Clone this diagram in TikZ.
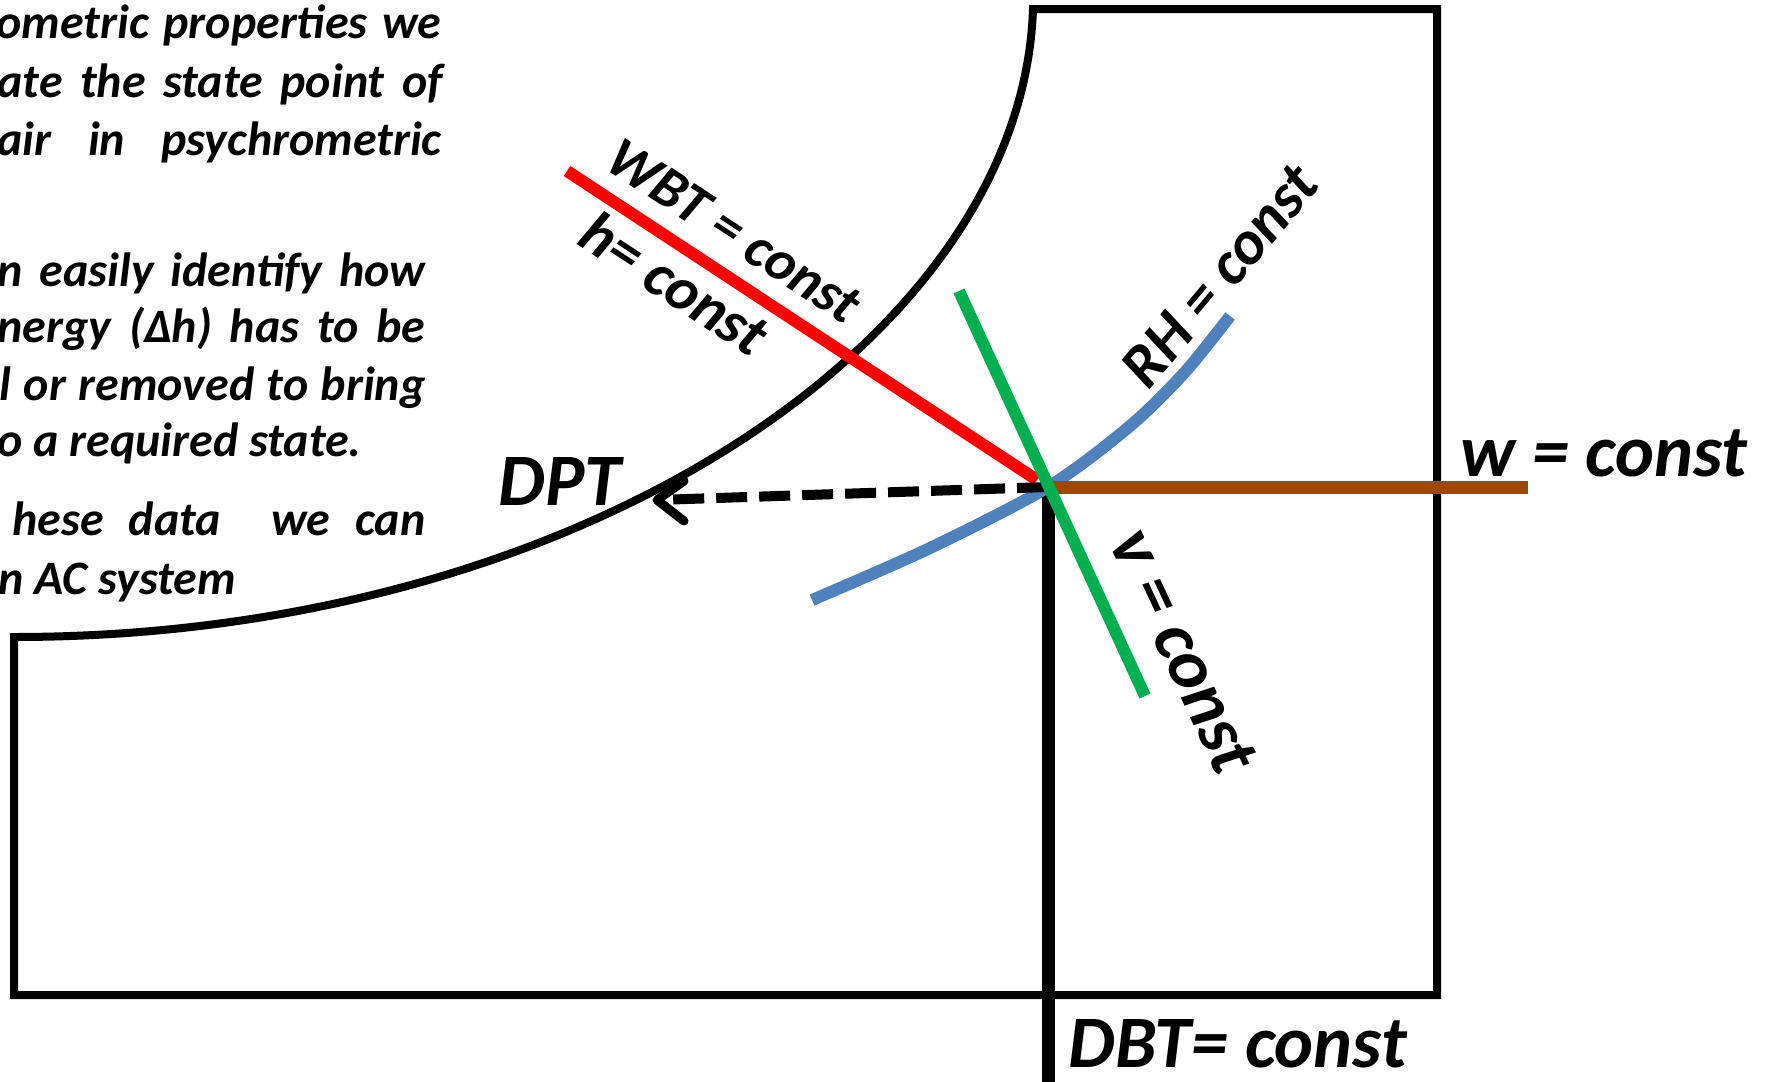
\documentclass[tikz,border=0pt]{standalone}
\usepackage{fontspec}
\setmainfont{Carlito}
\definecolor{redH}{HTML}{FF0000}
\definecolor{greenV}{HTML}{00B050}
\definecolor{blueRH}{HTML}{4F81BD}
\definecolor{brownW}{HTML}{984807}
\newcommand{\jline}[2]{\makebox[#1][s]{#2}}
\begin{document}
\begin{tikzpicture}[x=0.5pt,y=-0.5pt,
  outline/.style={line width=4pt, black, line join=miter},
  propline/.style={line width=6pt},
  para/.style={inner sep=0pt, font=\fontsize{24}{29}\selectfont\bfseries\itshape},
  biglabel/.style={inner sep=0pt, font=\fontsize{37}{44}\selectfont\bfseries\itshape},
  rotlabel/.style={inner sep=0pt, font=\fontsize{29}{34}\selectfont\bfseries\itshape}]
\useasboundingbox (0,0) rectangle (1769,1082);
\fill[white] (0,0) rectangle (1769,1082);

% paragraph (cropped at the left in the reference)
\node[para, anchor=base east] (p1) at (442,38)  {\jline{222.5pt}{ometric properties we}};
\node[para, anchor=base east] (p2) at (443,97)  {\jline{222.5pt}{ate the state point of}};
\node[para, anchor=base east] (p3) at (442,155) {\jline{222pt}{air in psychrometric}};
\node[para, anchor=base east] (p5) at (426,286) {\jline{214pt}{n easily identify how}};
\node[para, anchor=base east] (p6) at (426,342) {\jline{214pt}{nergy (Δh) has to be}};
\node[para, anchor=base east] (p7) at (426,400) {\jline{213pt}{l or removed to bring}};
\node[para, anchor=base west] (p8) at (-3,456)  {o a required state.};
\node[para, anchor=base east] (p9) at (426,535) {\jline{206.5pt}{hese data\ \ we can}};
\node[para, anchor=base west] (p10) at (-2,594) {n AC system};

% chart outline
\coordinate (TR) at (1437,9);
\coordinate (TL) at (1033,9);
\coordinate (CL) at (14,637);
\coordinate (BL) at (14,995);
\coordinate (BR) at (1437,995);
\draw[outline] (TR) -- (TL) .. controls (1022,340) and (577,637) .. (CL) -- (BL) -- (BR) -- cycle;

% state point and property lines
\coordinate (S) at (1048,487);
\coordinate (Sdbt) at (1048,481);
\coordinate (Dbot) at (1048,1090);
\draw[line width=6.5pt] (Sdbt) -- (Dbot);

\coordinate (R1) at (567,171);
\coordinate (R2) at (1037,480);
\draw[propline, redH] (R1) -- (R2);

\draw[propline, blueRH] plot[smooth] coordinates {(812,600) (930,548) (1048,487) (1130,426) (1185,372) (1230,316)};

\coordinate (W2) at (1528,487);
\draw[line width=6.5pt, brownW] (S) -- (W2);

\coordinate (tip) at (657,500);
\draw[line width=5pt, dash pattern=on 15.5pt off 6pt] (S) -- (tip);
\coordinate (armA) at (684,481);
\coordinate (armB) at (684,521);
\draw[line width=4.5pt, line cap=round, line join=round] (armA) -- (tip) -- (armB);

\coordinate (G1) at (959,291);
\coordinate (G2) at (1145,696);
\draw[propline, greenV] (G1) -- (G2);

% labels
\node[biglabel, anchor=base west] (dpt) at (498,505) {DPT};
\node[biglabel, anchor=base west] (wc) at (1460,476) {w = const};
\node[biglabel, anchor=base west] (dbt) at (1068,1067) {DBT= const};
\node[rotlabel, font=\fontsize{28.5}{34}\selectfont\bfseries\itshape, rotate=-33.2] (wbt) at (734,231) {WBT = const};
\node[rotlabel, font=\fontsize{30.5}{36}\selectfont\bfseries\itshape, rotate=-33.2] (hc) at (675,283) {h= const};
\node[rotlabel, font=\fontsize{31}{36}\selectfont\bfseries\itshape, rotate=50] (rh) at (1220,276) {RH = const};
\node[rotlabel, font=\fontsize{36}{42}\selectfont\bfseries\itshape, rotate=-65] (vc) at (1184,651) {v = const};
\end{tikzpicture}
\end{document}
